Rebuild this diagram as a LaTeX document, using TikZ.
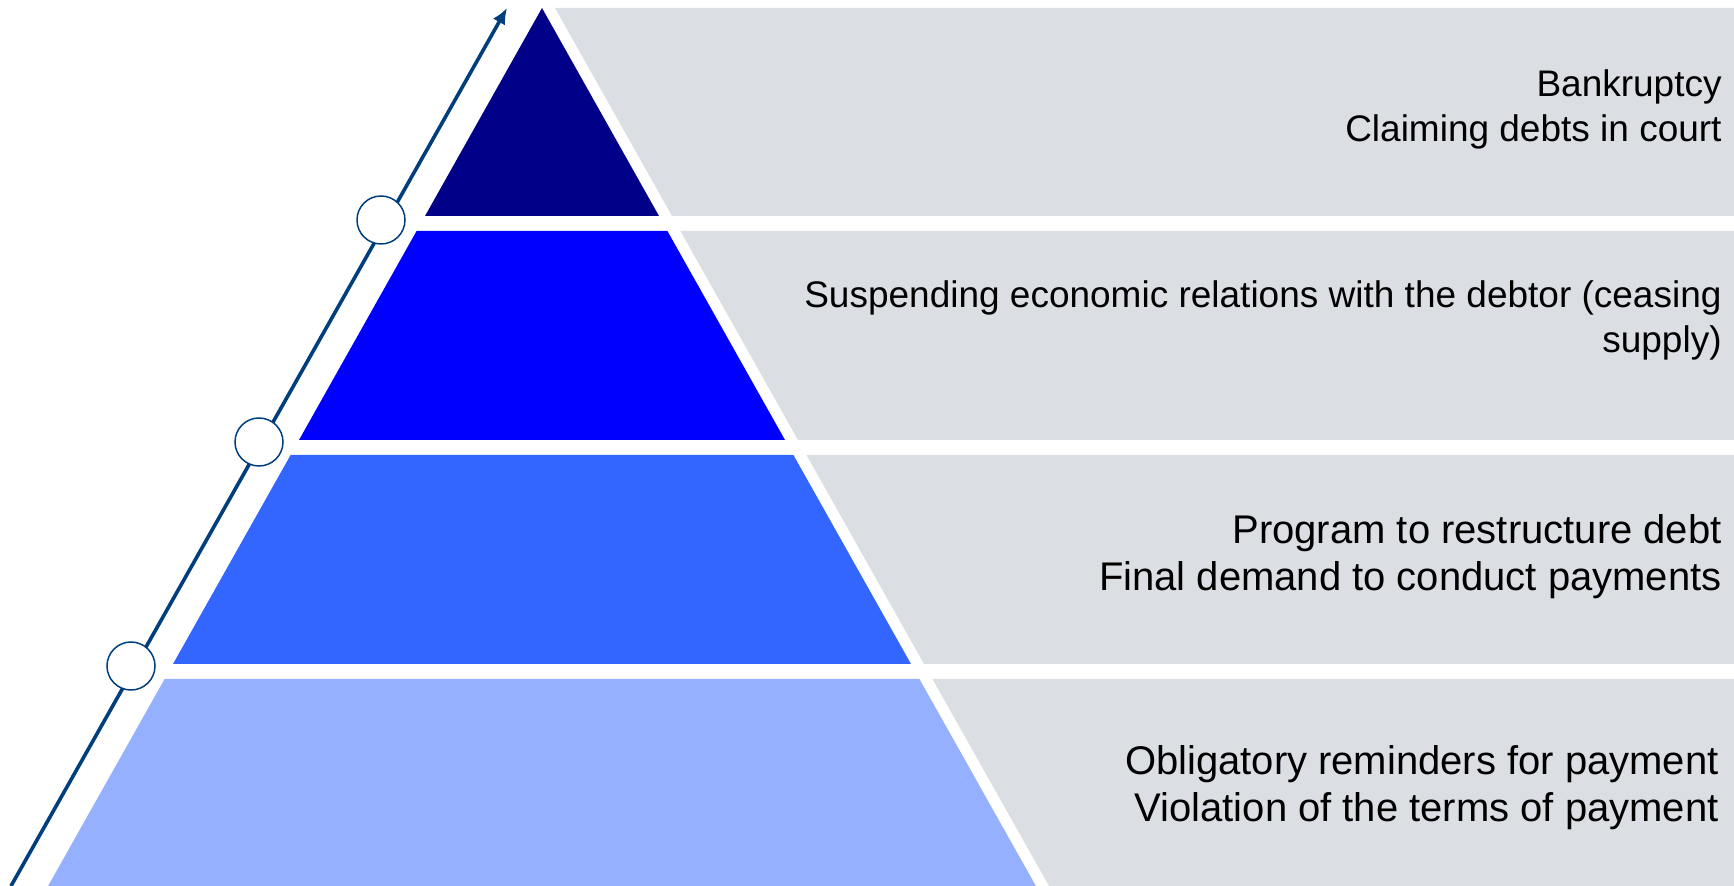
\documentclass[tikz,border=0pt]{standalone}
\usepackage{fontspec}
\setmainfont{Liberation Sans}
\usetikzlibrary{arrows.meta}
\definecolor{tierA}{RGB}{0,0,136}
\definecolor{tierB}{RGB}{0,0,255}
\definecolor{tierC}{RGB}{51,102,255}
\definecolor{tierD}{RGB}{149,176,255}
\definecolor{bandgray}{RGB}{219,223,228}
\definecolor{arrowblue}{RGB}{0,62,126}
\begin{document}
\begin{tikzpicture}[x=0.5pt, y=-0.5pt,
	band/.style={fill=bandgray},
	marker/.style={circle, draw=arrowblue, fill=white, line width=0.75pt, minimum size=24pt, inner sep=0pt},
	upline/.style={draw=arrowblue, line width=1.8pt, -{Latex[length=8pt, width=7pt]}},
	label/.style={anchor=east, align=right, inner sep=0pt, text=black},
	small/.style={font=\fontsize{18.5}{22.5}\selectfont},
	big/.style={font=\fontsize{20}{23.5}\selectfont}]
	\useasboundingbox (0,0) rectangle (1734,886);
	\fill[band] (555,8) -- (1734,8) -- (1734,216) -- (672,216) -- cycle;
	\fill[band] (680.4,231) -- (1734,231) -- (1734,440) -- (798,440) -- cycle;
	\fill[band] (806.4,455) -- (1734,455) -- (1734,664) -- (924,664) -- cycle;
	\fill[band] (932.4,679) -- (1734,679) -- (1734,886) -- (1049,886) -- cycle;
	\fill[tierA] (542,8) -- (659,216) -- (425,216) -- cycle;
	\fill[tierB] (416.6,231) -- (667.4,231) -- (785,440) -- (299,440) -- cycle;
	\fill[tierC] (290.6,455) -- (793.4,455) -- (911,664) -- (173,664) -- cycle;
	\fill[tierD] (164.6,679) -- (919.4,679) -- (1035.9,886) -- (48.1,886) -- cycle;
	\coordinate (foot) at (11,886);
	\coordinate (tip) at (507,8);
	\draw[upline] (foot) -- (tip);
	\node (m1) at (381,220) [marker] {};
	\node (m2) at (259,442) [marker] {};
	\node (m3) at (131,666) [marker] {};
	\node (l1) at (1722,109) [label, small] {Bankruptcy\\Claiming debts in court};
	\node (l2) at (1722,320) [label, small] {Suspending economic relations with the debtor (ceasing\\supply)};
	\node (l3) at (1722,557) [label, big] {Program to restructure debt\\Final demand to conduct payments};
	\node (l4) at (1719,788) [label, big] {Obligatory reminders for payment\\Violation of the terms of payment};
\end{tikzpicture}
\end{document}
